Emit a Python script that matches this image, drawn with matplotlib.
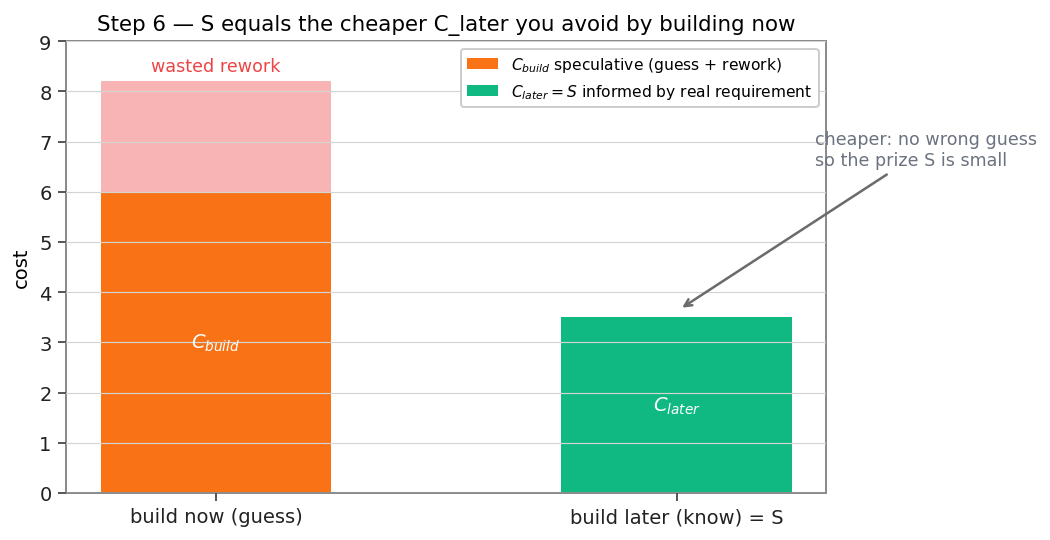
import matplotlib
matplotlib.use("Agg")
import matplotlib.pyplot as plt

plt.rcParams["font.family"] = ["DejaVu Sans"]
plt.rcParams["mathtext.fontset"] = "dejavusans"

categories = ["build now (guess)", "build later (know) = S"]
c_build = 6.0
rework = 2.2
c_later = 3.5

orange = "#f97316"
green = "#10b981"
red = "#ef4444"
gray = "#6b7280"

fig, ax = plt.subplots(figsize=(7.5, 3.864), dpi=140)
fig.subplots_adjust(left=0.063, right=0.787, top=0.922, bottom=0.087)

ax.bar(0, c_build, width=0.5, color=orange,
       label=r"$C_{build}$ speculative (guess + rework)")
ax.bar(0, rework, bottom=c_build, width=0.5, color=red, alpha=0.4)
ax.bar(1, c_later, width=0.5, color=green,
       label=r"$C_{later} = S$ informed by real requirement")

ax.text(0, c_build / 2, r"$C_{build}$", color="white", ha="center", va="center", fontsize=10)
ax.text(1, c_later / 2, r"$C_{later}$", color="white", ha="center", va="center", fontsize=10)
ax.text(0, c_build + rework + 0.12, "wasted rework", color=red, ha="center", va="bottom", fontsize=9)

ax.annotate("cheaper: no wrong guess\nso the prize S is small",
            xy=(1.005, 3.65), xytext=(1.3, 6.85),
            ha="left", va="center", color=gray, fontsize=9,
            annotation_clip=False,
            arrowprops=dict(arrowstyle="->", color="#6b6b6b", lw=1.3))

ax.set_xticks([0, 1])
ax.set_xticklabels(categories, fontsize=10)
ax.set_ylim(0, 9)
ax.set_yticks(range(10))
ax.tick_params(axis="y", labelsize=10)
ax.set_ylabel("cost", fontsize=10)
ax.set_title("Step 6 — S equals the cheaper C_later you avoid by building now", fontsize=11)

ax.grid(axis="y", color="#d4d4d4", lw=0.6)
ax.set_axisbelow(False)
for s in ax.spines.values():
    s.set_color("#888888")
    s.set_linewidth(1.0)
ax.tick_params(colors="#555555", labelcolor="#222222", length=4, width=1.0)

ax.legend(loc="upper right", fontsize=8, framealpha=1, edgecolor="#cccccc")

plt.savefig("out.png", dpi=140)
